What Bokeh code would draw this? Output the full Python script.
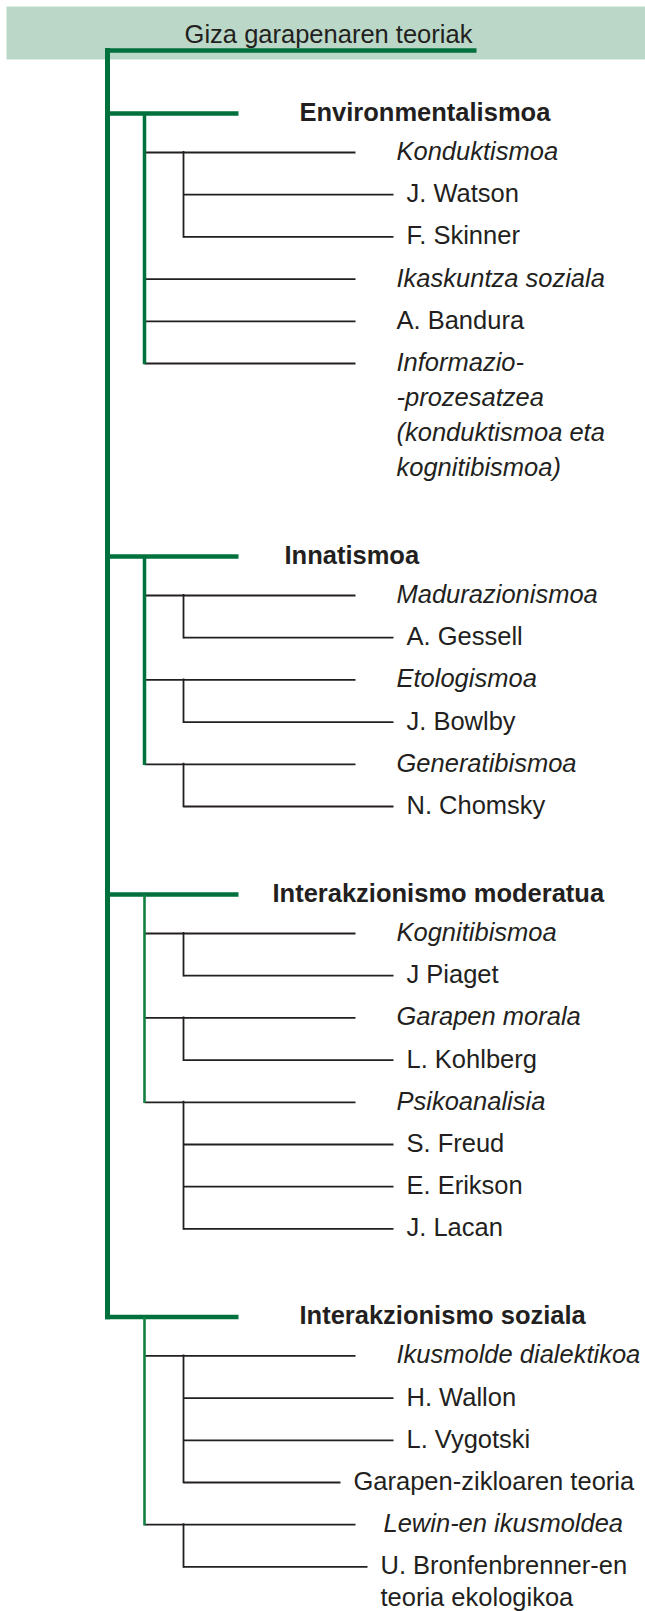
from bokeh.plotting import figure
from bokeh.models import Range1d, ColumnDataSource
from bokeh.embed import file_html
from bokeh.resources import INLINE
from bokeh.core.properties import value

# ---------------- data ----------------
title = "Giza garapenaren teoriak"
groups = ["Environmentalismoa", "Innatismoa",
          "Interakzionismo moderatua", "Interakzionismo soziala"]

env_items = [("Konduktismoa", True, ["J. Watson", "F. Skinner"]),
             ("Ikaskuntza soziala", True, []),
             ("A. Bandura", False, []),
             ("Informazio-\n-prozesatzea\n(konduktismoa eta\nkognitibismoa)", True, [])]
inn_items = [("Madurazionismoa", True, ["A. Gessell"]),
             ("Etologismoa", True, ["J. Bowlby"]),
             ("Generatibismoa", True, ["N. Chomsky"])]
mod_items = [("Kognitibismoa", True, ["J Piaget"]),
             ("Garapen morala", True, ["L. Kohlberg"]),
             ("Psikoanalisia", True, ["S. Freud", "E. Erikson", "J. Lacan"])]
soz_items = [("Ikusmolde dialektikoa", True,
              ["H. Wallon", "L. Vygotski", "Garapen-zikloaren teoria"]),
             ("Lewin-en ikusmoldea", True,
              ["U. Bronfenbrenner-en\nteoria ekologikoa"])]
branches = [env_items, inn_items, mod_items, soz_items]

# ---------------- layout (pixel units of the picture) ----------------
W, H = 645, 1611
GREEN = "#00703c"
GREEN2 = "#128040"
INK = "#231f20"
BAND = "#bad7c8"
FONT = value("Liberation Sans")
FS = "25.5px"

MAIN_X = 107
SEC_X = 144
CHILD_X = 183
GROUP_END = 238
SEC_END = 355
CHILD_END = 393
SEC_TXT = 396
CHILD_TXT = 406
GROUP_Y0 = 113
FIRST = 39
ROW = 42.2
CONT = 35
GAP = 88
TEXT_DY = -1.5          # text baseline offset from its line
group_txt_x = [299, 284, 272, 299]
sec_widths = [3.5, 3.5, 2.6, 2.6]
BRON = "U. Bronfenbrenner-en\nteoria ekologikoa"
line_end_override = {"Garapen-zikloaren teoria": 340, BRON: 367}
txt_x_override = {"Garapen-zikloaren teoria": 353, BRON: 380,
                  "Lewin-en ikusmoldea": 383}
cont_override = {BRON: 32}

p = figure(width=W, height=H, x_range=Range1d(0, W),
           y_range=Range1d(H, 0), output_backend="svg",
           toolbar_location=None, min_border=0)
p.axis.visible = False
p.grid.visible = False
p.outline_line_color = None
p.background_fill_color = "white"
p.border_fill_color = "white"

# header band and title
p.quad(left=[6], right=[W + 5], top=[6], bottom=[59], fill_color=BAND,
       line_color=None)
p.text(x=[328], y=[33], text=[title], text_align="center",
       text_baseline="alphabetic", text_font=FONT, text_font_size=FS,
       text_color=INK)

blk = dict(x0=[], y0=[], x1=[], y1=[])
txt = dict(x=[], y=[], text=[], style=[])
grn = dict(x0=[], y0=[], x1=[], y1=[], w=[], c=[])


def add_text(x, y, label, style):
    lines = label.split("\n")
    step = cont_override.get(label, CONT)
    for k, ln in enumerate(lines):
        txt["x"].append(x)
        txt["y"].append(y + k * step + TEXT_DY)
        txt["text"].append(ln)
        txt["style"].append(style)
    return y + (len(lines) - 1) * step


def add_seg(d, x0, y0, x1, y1):
    d["x0"].append(x0); d["y0"].append(y0)
    d["x1"].append(x1); d["y1"].append(y1)


y = GROUP_Y0
group_ys = []
for gi, (g, items) in enumerate(zip(groups, branches)):
    gy = y
    group_ys.append(gy)
    add_text(group_txt_x[gi], gy, g, "bold")
    grn["x0"].append(MAIN_X - 2.5); grn["y0"].append(gy)
    grn["x1"].append(GROUP_END); grn["y1"].append(gy)
    grn["w"].append(4.5); grn["c"].append(GREEN)
    r = gy + FIRST
    item_ys = []
    last = r
    for label, italic, children in items:
        iy = r
        item_ys.append(iy)
        add_seg(blk, SEC_X, iy, line_end_override.get(label, SEC_END), iy)
        last = add_text(txt_x_override.get(label, SEC_TXT), iy, label,
                        "italic" if italic else "normal")
        r += ROW
        cys = []
        for c in children:
            cys.append(r)
            add_seg(blk, CHILD_X, r, line_end_override.get(c, CHILD_END), r)
            last = add_text(txt_x_override.get(c, CHILD_TXT), r, c, "normal")
            r += ROW
        if cys:
            add_seg(blk, CHILD_X, iy - 1.5, CHILD_X, cys[-1] + 0.8)
    grn["x0"].append(SEC_X); grn["y0"].append(gy)
    grn["x1"].append(SEC_X); grn["y1"].append(item_ys[-1] + 0.8)
    grn["w"].append(sec_widths[gi]); grn["c"].append(GREEN2 if gi > 1 else GREEN)
    y = last + GAP

# main trunk and top bar
grn["x0"].append(MAIN_X); grn["y0"].append(50 - 2.5)
grn["x1"].append(MAIN_X); grn["y1"].append(group_ys[-1] + 2.25)
grn["w"].append(5); grn["c"].append(GREEN)
grn["x0"].append(MAIN_X - 2.5); grn["y0"].append(50)
grn["x1"].append(476); grn["y1"].append(50)
grn["w"].append(4.5); grn["c"].append(GREEN)

p.segment(x0="x0", y0="y0", x1="x1", y1="y1", source=ColumnDataSource(blk),
          line_color=INK, line_width=1.8)
p.segment(x0="x0", y0="y0", x1="x1", y1="y1", source=ColumnDataSource(grn),
          line_color="c", line_width="w")

for st in ["normal", "italic", "bold"]:
    idx = [i for i, s in enumerate(txt["style"]) if s == st]
    sub = ColumnDataSource({k: [txt[k][i] for i in idx] for k in ["x", "y", "text"]})
    p.text(x="x", y="y", text="text", source=sub, text_align="left",
           text_baseline="alphabetic", text_font=FONT, text_font_size=FS,
           text_font_style=st, text_color=INK)

open("out.html", "w").write(file_html(p, INLINE))
